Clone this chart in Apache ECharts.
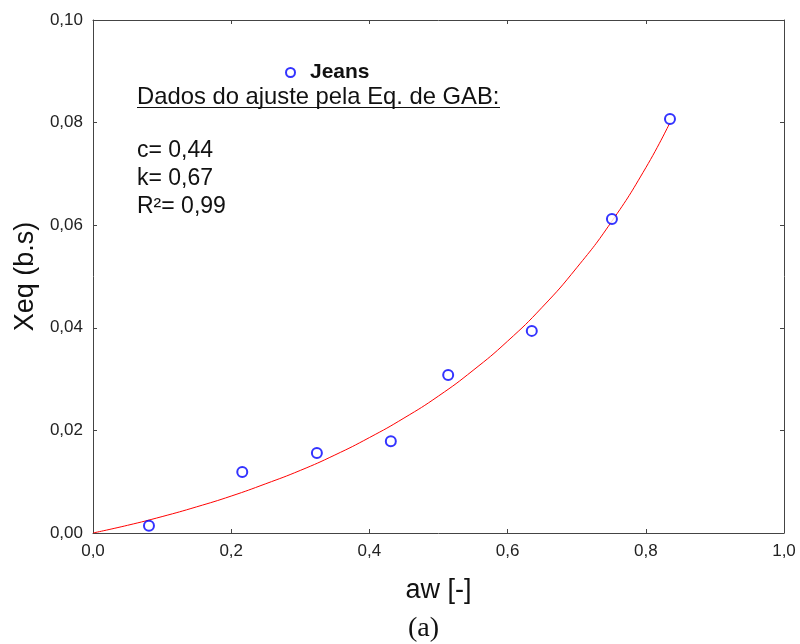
<!DOCTYPE html>
<html>
<head>
<meta charset="utf-8">
<script src="https://cdn.jsdelivr.net/npm/echarts@6/dist/echarts.min.js"></script>
<style>html,body{margin:0;padding:0;background:#fff}#c{width:800px;height:644px}</style>
</head>
<body>
<div id="c"></div>
<script>
// Experimental points (Jeans)
var pointAw = [0.081, 0.216, 0.324, 0.431, 0.514, 0.635, 0.751, 0.835];
var pointXeq = [0.0014, 0.0119, 0.0156, 0.0179, 0.0308, 0.0394, 0.0612, 0.0807];
// Fitted GAB curve
var curveAw = [0, 0.05, 0.1, 0.15, 0.2, 0.25, 0.3, 0.35, 0.4, 0.45, 0.5, 0.55, 0.6, 0.65, 0.7, 0.75, 0.8, 0.835];
var curveXeq = [0, 0.0015, 0.0032, 0.0051, 0.0072, 0.0096, 0.0122, 0.0152, 0.0186, 0.0224, 0.0267, 0.0317, 0.0374, 0.0440, 0.0517, 0.0606, 0.0712, 0.0800];
// Labels
var seriesName = 'Jeans';
var xAxisName = 'aw [-]';
var yAxisName = 'Xeq (b.s)';
var noteTitle = 'Dados do ajuste pela Eq. de GAB:';
var noteLines = ['c= 0,44', 'k= 0,67', 'R\u00b2= 0,99'];
var caption = '(a)';

var scatterData = pointAw.map(function (a, i) { return [a, pointXeq[i]]; });
var curveData = curveAw.map(function (a, i) { return [a, curveXeq[i]]; });

var font = 'Arial, "Liberation Sans", sans-serif';
var axisColor = '#444';
var labelColor = '#222';

var chart = echarts.init(document.getElementById('c'), null, {renderer: 'canvas'});

var graphics = [
  {type: 'text', left: 137, top: 85, style: {text: noteTitle, font: '23.8px ' + font, fill: '#111'}},
  {type: 'line', shape: {x1: 137, y1: 107.5, x2: 500, y2: 107.5}, style: {stroke: '#111', lineWidth: 1.2}},
  {type: 'text', left: 408, top: 615, style: {text: caption, font: '28px "Liberation Serif", "Times New Roman", serif', fill: '#111'}}
];
noteLines.forEach(function (t, i) {
  graphics.push({type: 'text', left: 137, top: 139 + i * 28, style: {text: t, font: '23px ' + font, fill: '#111'}});
});

function sideAxis(pos, isX) {
  return {
    type: 'value', position: pos, min: 0, max: isX ? 1 : 0.1, interval: isX ? 0.2 : 0.02,
    axisLine: {show: true, onZero: false, lineStyle: {color: axisColor, width: 1}},
    axisTick: {show: true, inside: true, length: 4, lineStyle: {color: axisColor}},
    axisLabel: {show: false}, splitLine: {show: false}
  };
}

chart.setOption({
  animation: false,
  backgroundColor: '#fff',
  grid: {left: 93, right: 16, top: 20, bottom: 111, containLabel: false},
  legend: {
    data: [seriesName],
    left: 280, top: 57,
    itemWidth: 9, itemHeight: 9,
    textStyle: {fontFamily: font, fontSize: 21, fontWeight: 'bold', color: '#111', padding: [0, 0, 0, 10]}
  },
  xAxis: [{
    type: 'value', min: 0, max: 1, interval: 0.2,
    name: xAxisName, nameLocation: 'middle', nameGap: 44,
    nameTextStyle: {fontFamily: font, fontSize: 27, color: '#111'},
    axisLine: {show: true, onZero: false, lineStyle: {color: axisColor, width: 1}},
    axisTick: {show: true, inside: true, length: 4, lineStyle: {color: axisColor}},
    axisLabel: {fontFamily: font, fontSize: 17, color: labelColor, margin: 10,
      formatter: function (v) { return v.toFixed(1).replace('.', ','); }},
    splitLine: {show: false}
  }, sideAxis('top', true)],
  yAxis: [{
    type: 'value', min: 0, max: 0.1, interval: 0.02,
    name: yAxisName, nameLocation: 'middle', nameGap: 53,
    nameTextStyle: {fontFamily: font, fontSize: 27, color: '#111'},
    axisLine: {show: true, onZero: false, lineStyle: {color: axisColor, width: 1}},
    axisTick: {show: true, inside: true, length: 4, lineStyle: {color: axisColor}},
    axisLabel: {fontFamily: font, fontSize: 17, color: labelColor, margin: 10,
      formatter: function (v) { return v.toFixed(2).replace('.', ','); }},
    splitLine: {show: false}
  }, sideAxis('right', false)],
  series: [{
    name: 'GAB', type: 'line', data: curveData, smooth: true, showSymbol: false,
    lineStyle: {color: '#ff0000', width: 1}, z: 2
  }, {
    name: seriesName, type: 'scatter', data: scatterData,
    symbol: 'emptyCircle', symbolSize: 10,
    itemStyle: {color: '#0000ff', borderColor: '#0000ff', borderWidth: 1}, z: 3
  }],
  graphic: graphics
});
</script>
</body>
</html>
